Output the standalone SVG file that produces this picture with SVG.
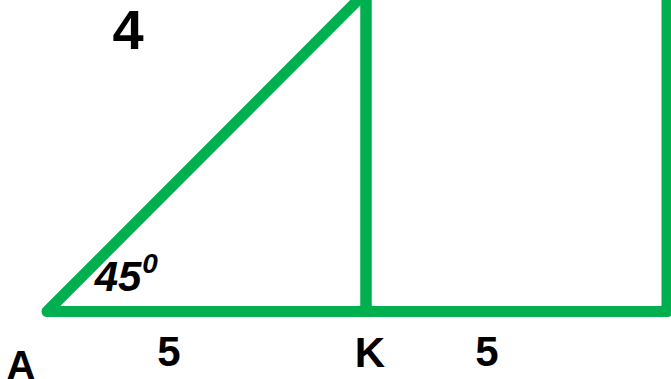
<svg xmlns="http://www.w3.org/2000/svg" width="671" height="379" viewBox="0 0 671 379">
<style>
.ln{fill:none;stroke:#00B050;stroke-width:11;stroke-linejoin:round;stroke-linecap:round}
.t{font-family:"Liberation Sans",Arial,sans-serif;font-weight:bold;fill:#000;text-anchor:middle}
</style>
<rect width="671" height="379" fill="#fff"/>
<g id="connectors">
<polyline class="ln" points="366,-8 47,311.5 667,311.5"/>
<line class="ln" x1="366" y1="-8" x2="366" y2="311.5"/>
<rect class="ln" x="366" y="-5.5" width="301" height="317" style="stroke-linecap:butt"/>
</g>
<g id="labels">
<text class="t" x="128" y="49" font-size="56">4</text>
<text class="t" x="118" y="291" font-size="42" font-style="italic">45</text>
<text class="t" x="150" y="273" font-size="28" font-style="italic">0</text>
<text class="t" x="21" y="379" font-size="40">A</text>
<text class="t" x="169" y="366" font-size="42">5</text>
<text class="t" x="370" y="367" font-size="42">K</text>
<text class="t" x="487" y="366" font-size="42">5</text>
</g>
</svg>
